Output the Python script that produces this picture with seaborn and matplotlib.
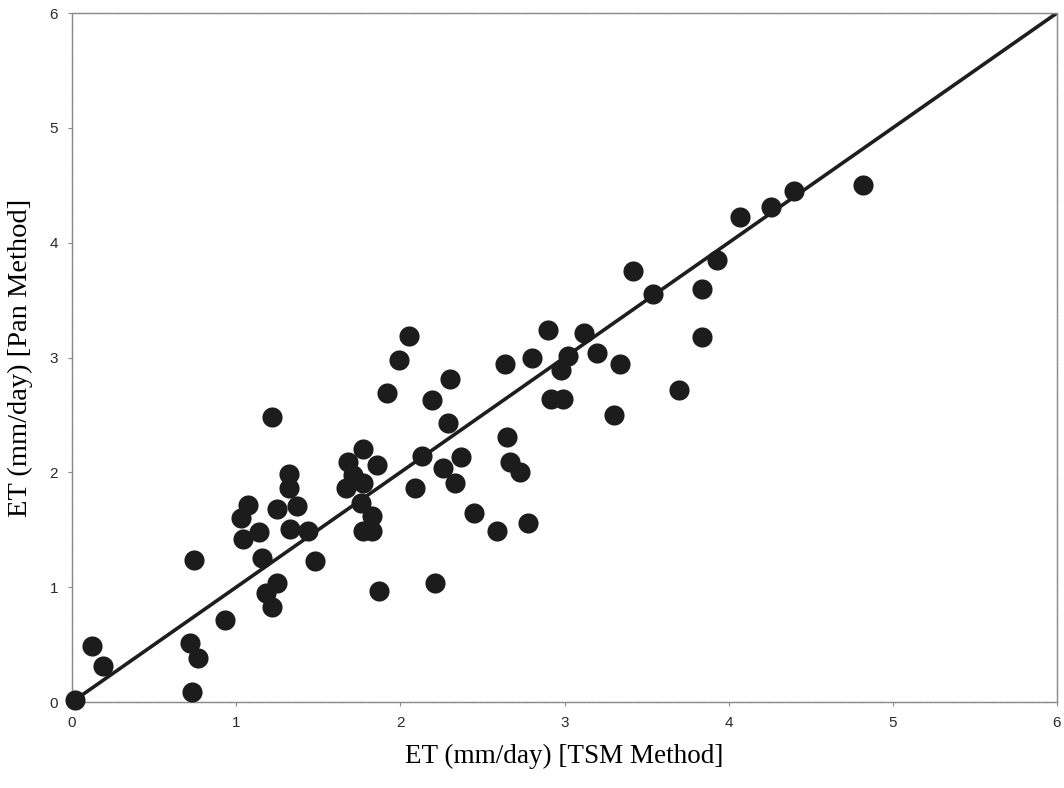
import matplotlib
matplotlib.use("Agg")
import matplotlib.pyplot as plt
import seaborn as sns
import pandas as pd

tsm_et = [0.02, 0.12, 0.19, 0.72, 0.77, 0.73, 0.74, 0.93, 1.03, 1.07,
          1.04, 1.14, 1.16, 1.25, 1.32, 1.32, 1.37, 1.33, 1.44, 1.48,
          1.25, 1.18, 1.22, 1.22, 1.77, 1.68, 1.86, 1.71, 1.77, 1.67,
          1.76, 1.83, 1.77, 1.83, 1.87, 2.09, 2.13, 1.92, 1.99, 2.05,
          2.19, 2.30, 2.29, 2.37, 2.26, 2.33, 2.45, 2.59, 2.78, 2.65,
          2.67, 2.73, 2.21, 2.64, 2.80, 2.90, 3.12, 3.02, 2.98, 2.92,
          2.99, 3.20, 3.34, 3.30, 3.42, 3.54, 3.70, 3.84, 3.84, 3.93,
          4.07, 4.26, 4.40, 4.82]
pan_et = [0.02, 0.49, 0.31, 0.51, 0.38, 0.09, 1.24, 0.71, 1.60, 1.72,
          1.42, 1.48, 1.25, 1.68, 1.99, 1.86, 1.71, 1.51, 1.49, 1.23,
          1.04, 0.95, 0.83, 2.48, 2.20, 2.09, 2.06, 1.98, 1.91, 1.86,
          1.73, 1.62, 1.49, 1.49, 0.97, 1.86, 2.14, 2.69, 2.98, 3.19,
          2.63, 2.81, 2.43, 2.13, 2.04, 1.91, 1.65, 1.49, 1.56, 2.31,
          2.09, 2.00, 1.04, 2.94, 3.00, 3.24, 3.21, 3.01, 2.89, 2.64,
          2.64, 3.04, 2.94, 2.50, 3.75, 3.55, 2.72, 3.60, 3.18, 3.85,
          4.22, 4.31, 4.45, 4.50]
line_x = [0.0, 6.0]
line_y = [0.0, 6.0]
ticks = [0, 1, 2, 3, 4, 5, 6]

df = pd.DataFrame({"tsm": tsm_et, "pan": pan_et})

sns.set_theme(style="white")
fig = plt.figure(figsize=(10.64, 7.88), dpi=100)
ax = fig.add_axes([0.0677, 0.1091, 0.9257, 0.8744])

ax.plot(line_x, line_y, color="#1e1e1e", lw=2.6, zorder=2, solid_capstyle="round")
sns.scatterplot(data=df, x="tsm", y="pan", ax=ax, s=210, color="#1c1c1c",
                edgecolor="#1c1c1c", linewidth=0, zorder=3, clip_on=False)

ax.set_xlim(0, 6)
ax.set_ylim(0, 6)
ax.set_xticks(ticks)
ax.set_yticks(ticks)
ax.set_xticklabels([str(t) for t in ticks], fontsize=11, color="#2a2a2a",
                   family=["Liberation Sans", "DejaVu Sans"])
ax.set_yticklabels([str(t) for t in ticks], fontsize=11, color="#2a2a2a",
                   family=["Liberation Sans", "DejaVu Sans"])
ax.tick_params(axis="both", direction="out", length=3, width=0.8, color="#888888",
               pad=7, bottom=True, left=True)
for s in ax.spines.values():
    s.set_color("#8a8a8a")
    s.set_linewidth(1.0)
    s.set_linestyle((0, (2, 0.6)))

ax.set_xlabel("ET (mm/day) [TSM Method]", fontsize=19.5,
              family=["Liberation Serif", "DejaVu Serif"], color="black", labelpad=10)
ax.set_ylabel("ET (mm/day) [Pan Method]", fontsize=20.5,
              family=["Liberation Serif", "DejaVu Serif"], color="black", labelpad=12)

fig.savefig("out.png", dpi=100)
